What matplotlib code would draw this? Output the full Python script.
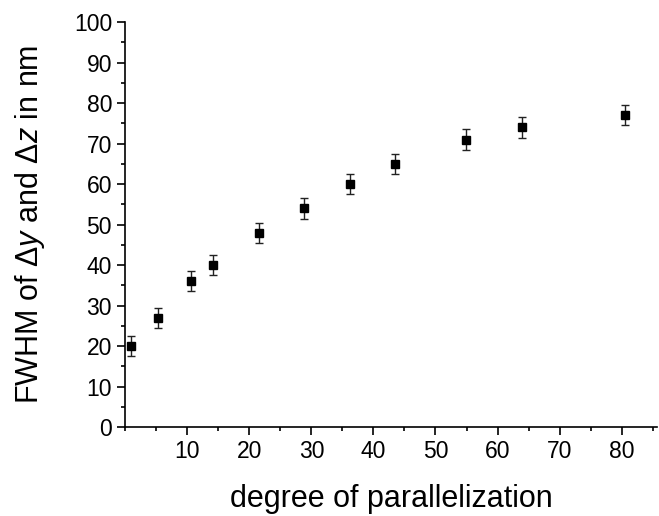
import numpy as np
import matplotlib.pyplot as plt
from matplotlib.ticker import MultipleLocator

plt.rcParams['font.family'] = ['Liberation Sans', 'DejaVu Sans']
plt.rcParams['mathtext.fontset'] = 'custom'
plt.rcParams['mathtext.rm'] = 'Liberation Sans'
plt.rcParams['mathtext.it'] = 'Liberation Sans:italic'

# data
parallel = [1.0, 5.3, 10.6, 14.1, 21.5, 28.8, 36.2, 43.4, 54.9, 64.0, 80.6]
fwhm = [20, 27, 36, 40, 48, 54, 60, 65, 71, 74, 77]
fwhm_err = [2.5, 2.5, 2.5, 2.5, 2.5, 2.5, 2.5, 2.5, 2.5, 2.5, 2.5]

fig = plt.figure(figsize=(6.59, 5.16), dpi=100)
ax = fig.add_axes([0.19, 0.1725, 0.807, 0.7845])

ax.errorbar(parallel, fwhm, yerr=fwhm_err, fmt='s', color='black', ecolor='#222222',
            markersize=6, elinewidth=1.0, capsize=2.6, capthick=1.0)

ax.set_xlim(0, 85.7)
ax.set_ylim(0, 100)
ax.xaxis.set_major_locator(MultipleLocator(10))
ax.xaxis.set_minor_locator(MultipleLocator(5))
ax.yaxis.set_major_locator(MultipleLocator(10))
ax.yaxis.set_minor_locator(MultipleLocator(5))
ax.set_xticks([10, 20, 30, 40, 50, 60, 70, 80])

for s in ['top', 'right']:
    ax.spines[s].set_visible(False)
for s in ['left', 'bottom']:
    ax.spines[s].set_linewidth(1.2)

ax.tick_params(which='major', direction='out', length=6, width=1.2, labelsize=16.5, pad=3.5)
ax.tick_params(which='minor', direction='out', length=3, width=1.2)

ax.set_xlabel('degree of parallelization', fontsize=22, labelpad=15)
ax.set_ylabel(r'FWHM of $\Delta\mathit{y}$ and $\Delta\mathit{z}$ in nm', fontsize=22, labelpad=19)

fig.savefig('out.png', dpi=100)
